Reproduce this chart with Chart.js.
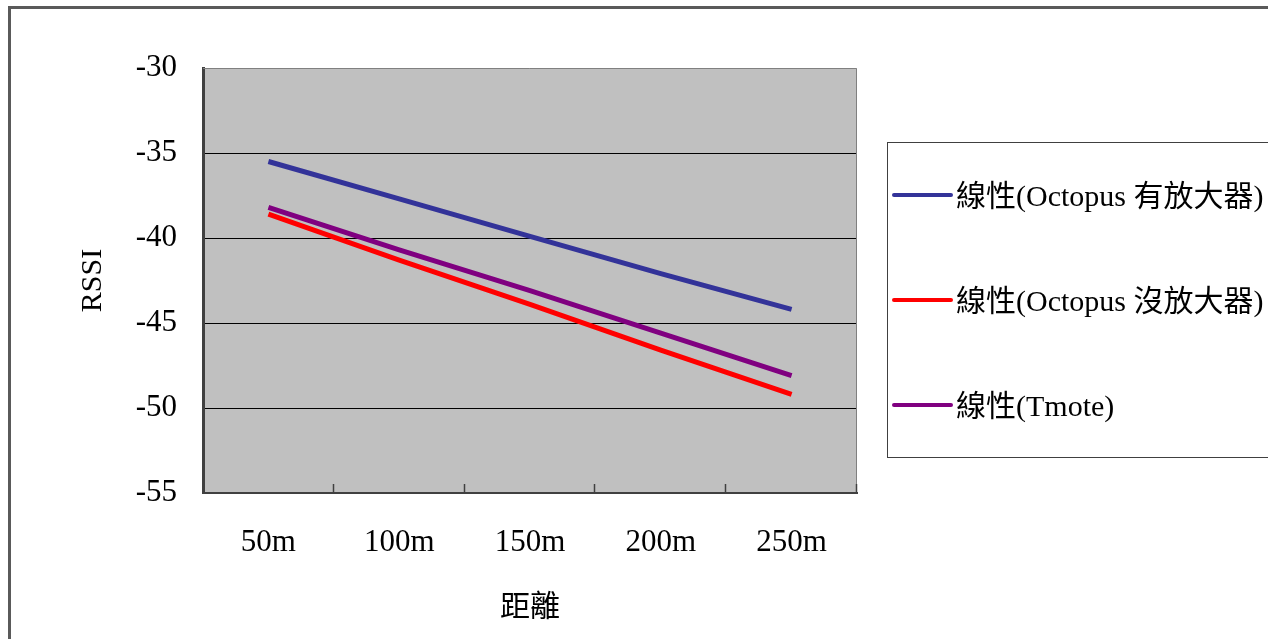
<!DOCTYPE html>
<html>
<head>
<meta charset="utf-8">
<script src="https://cdn.jsdelivr.net/npm/chart.js@4.4.1/dist/chart.umd.min.js"></script>
<style>
  body { margin: 0; background: #fff; }
</style>
</head>
<body>
<canvas id="chart" width="1268" height="639"></canvas>
<script>
// distances and the three fitted RSSI lines
const distances = ["50m", "100m", "150m", "200m", "250m"];
const octopusAmp = [-35.5, -37.7, -39.9, -42.1, -44.2];
const octopusNoAmp = [-38.6, -41.3, -43.9, -46.6, -49.2];
const tmote = [-38.2, -40.7, -43.1, -45.6, -48.1];
const seriesNames = ["線性(Octopus 有放大器)", "線性(Octopus 沒放大器)", "線性(Tmote)"];
const seriesColors = ["#333399", "#ff0000", "#800080"];
const yTicks = [-55, -50, -45, -40, -35, -30];

const FONT = "'Liberation Serif', 'Noto Sans CJK TC', serif";
Chart.defaults.font.family = FONT;
Chart.defaults.color = "#000";

// grey plot background, outer frame, inward x tick marks, boxed legend
const excelLook = {
  id: "excelLook",
  beforeDraw(chart) {
    const { ctx, chartArea: a } = chart;
    ctx.save();
    ctx.fillStyle = "#c0c0c0";
    ctx.fillRect(a.left, a.top, a.right - a.left, a.bottom - a.top);
    ctx.restore();
  },
  afterDraw(chart) {
    const { ctx, chartArea: a } = chart;
    ctx.save();
    // outer frame (right/bottom run off the page)
    ctx.strokeStyle = "#5a5a5a";
    ctx.lineWidth = 3;
    ctx.strokeRect(9.5, 7.5, 1300, 700);

    // top and right edge of plot
    ctx.strokeStyle = "#808080";
    ctx.lineWidth = 1;
    ctx.beginPath();
    ctx.moveTo(a.left, a.top + 0.5);
    ctx.lineTo(a.right - 0.5, a.top + 0.5);
    ctx.lineTo(a.right - 0.5, a.bottom);
    ctx.stroke();

    // category boundary ticks pointing into the plot
    const x = chart.scales.x;
    const step = x.getPixelForValue(1) - x.getPixelForValue(0);
    ctx.strokeStyle = "#404040";
    ctx.lineWidth = 1.5;
    ctx.beginPath();
    for (let i = 0; i < distances.length; i++) {
      const px = Math.round(x.getPixelForValue(i) + step / 2) - 0.5;
      ctx.moveTo(px, a.bottom);
      ctx.lineTo(px, a.bottom - 9);
    }
    ctx.stroke();

    // legend box
    const lx = 887, ly = 142;
    ctx.strokeStyle = "#404040";
    ctx.lineWidth = 1;
    ctx.strokeRect(lx + 0.5, ly + 0.5, 420, 315);
    ctx.font = "30px " + FONT;
    ctx.textBaseline = "middle";
    ctx.fillStyle = "#000";
    chart.data.datasets.forEach((ds, i) => {
      const y = ly + 53 + i * 105;
      ctx.strokeStyle = ds.borderColor;
      ctx.lineWidth = 4;
      ctx.lineCap = "round";
      ctx.beginPath();
      ctx.moveTo(lx + 7, y);
      ctx.lineTo(lx + 64, y);
      ctx.stroke();
      ctx.fillText(ds.label, lx + 69, y + 3);
    });
    ctx.restore();
  }
};

const datasets = [octopusAmp, octopusNoAmp, tmote].map((values, i) => ({
  label: seriesNames[i],
  data: values,
  borderColor: seriesColors[i],
  backgroundColor: seriesColors[i],
  borderWidth: 5,
  pointRadius: 0,
  tension: 0,
  fill: false
}));

new Chart(document.getElementById("chart"), {
  type: "line",
  data: { labels: distances, datasets },
  options: {
    responsive: false,
    animation: false,
    events: [],
    layout: { padding: { left: 60, top: 68, right: 411, bottom: 0 } },
    plugins: {
      legend: { display: false },
      tooltip: { enabled: false }
    },
    scales: {
      x: {
        offset: true,
        afterFit: (s) => { s.height = 146; },
        grid: { display: false, drawTicks: false },
        border: { color: "#404040", width: 2 },
        ticks: { padding: 31, font: { size: 31 }, color: "#000" },
        title: {
          display: true,
          text: "距離",
          font: { size: 30 },
          color: "#000",
          padding: { top: 0, bottom: 13 }
        }
      },
      y: {
        min: -55,
        max: -30,
        afterFit: (s) => { s.width = 143; },
        afterBuildTicks: (s) => { s.ticks = yTicks.map((v) => ({ value: v })); },
        grid: {
          drawTicks: false,
          color: (c) => (c.tick.value === -55 || c.tick.value === -30 ? "rgba(0,0,0,0)" : "#000"),
          lineWidth: 1
        },
        border: { color: "#404040", width: 3 },
        ticks: { padding: 26, font: { size: 31 }, color: "#000" },
        title: {
          display: true,
          text: "RSSI",
          font: { size: 30 },
          color: "#000",
          padding: { top: 15, bottom: 0 }
        }
      }
    }
  },
  plugins: [excelLook]
});
</script>
</body>
</html>
